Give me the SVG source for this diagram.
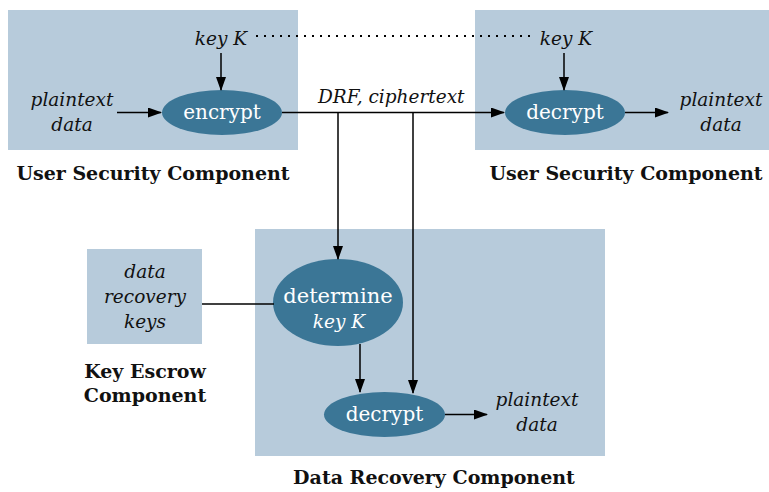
<svg xmlns="http://www.w3.org/2000/svg" width="769" height="492" viewBox="0 0 769 492">
<defs>
<marker id="ah" markerWidth="14" markerHeight="10" refX="13" refY="5" orient="auto" markerUnits="userSpaceOnUse">
<path d="M0,0 L14,5 L0,10 z" fill="#000"/>
</marker>
<style>
.box{fill:#b7cbdb}
.ell{fill:#3b7696}
text{font-family:"DejaVu Serif","Liberation Serif",serif}
.it{font-style:italic;font-size:18.5px;fill:#111}
.wt{font-size:20px;fill:#fff}
.wti{font-style:italic;font-size:18.5px;fill:#fff}
.bd{font-weight:bold;font-size:19px;fill:#111}
.ln{stroke:#000;stroke-width:1.5;fill:none}
</style>
</defs>
<rect width="769" height="492" fill="#fff"/>
<g id="usc-left">
<rect class="box" x="8" y="10" width="290" height="140"/>
<text class="it" x="221" y="45" text-anchor="middle">key K</text>
<text class="it" x="72" y="106" text-anchor="middle">plaintext</text>
<text class="it" x="72" y="131" text-anchor="middle">data</text>
<text class="bd" x="153" y="180" text-anchor="middle">User Security Component</text>
</g>
<g id="encrypt">
<ellipse class="ell" cx="222" cy="112.5" rx="60" ry="22.5"/>
<text class="wt" x="222" y="119" text-anchor="middle">encrypt</text>
</g>
<g id="usc-right">
<rect class="box" x="475" y="10" width="294" height="140"/>
<text class="it" x="566" y="45" text-anchor="middle">key K</text>
<text class="it" x="721" y="106" text-anchor="middle">plaintext</text>
<text class="it" x="721" y="131" text-anchor="middle">data</text>
<text class="bd" x="626" y="180" text-anchor="middle">User Security Component</text>
</g>
<g id="decrypt-top">
<ellipse class="ell" cx="565" cy="112.5" rx="60" ry="22.5"/>
<text class="wt" x="565" y="119" text-anchor="middle">decrypt</text>
</g>
<g id="key-escrow">
<rect class="box" x="87" y="249" width="115" height="95"/>
<text class="it" x="145" y="278" text-anchor="middle">data</text>
<text class="it" x="145" y="303" text-anchor="middle">recovery</text>
<text class="it" x="145" y="328" text-anchor="middle">keys</text>
<text class="bd" x="145" y="378" text-anchor="middle">Key Escrow</text>
<text class="bd" x="145" y="402" text-anchor="middle">Component</text>
</g>
<g id="data-recovery">
<rect class="box" x="255" y="229" width="350" height="227"/>
<text class="it" x="537" y="406" text-anchor="middle">plaintext</text>
<text class="it" x="537" y="431" text-anchor="middle">data</text>
<text class="bd" x="434" y="484" text-anchor="middle">Data Recovery Component</text>
</g>
<g id="determine">
<ellipse class="ell" cx="338" cy="302.5" rx="65" ry="43.5"/>
<text class="wt" x="338" y="303" text-anchor="middle" style="font-size:21px">determine</text>
<text class="wti" x="339" y="328" text-anchor="middle">key K</text>
</g>
<g id="decrypt-bottom">
<ellipse class="ell" cx="384.5" cy="414.5" rx="60.5" ry="22.5"/>
<text class="wt" x="384.5" y="421" text-anchor="middle">decrypt</text>
</g>
<g id="connectors">
<line x1="256" y1="36" x2="532" y2="36" stroke="#000" stroke-width="2" stroke-dasharray="2,6"/>
<line class="ln" x1="221" y1="53" x2="221" y2="90" marker-end="url(#ah)"/>
<line class="ln" x1="564" y1="53" x2="564" y2="90" marker-end="url(#ah)"/>
<line class="ln" x1="117" y1="112.5" x2="161" y2="112.5" marker-end="url(#ah)"/>
<line class="ln" x1="282" y1="112.5" x2="504" y2="112.5" marker-end="url(#ah)"/>
<text class="it" x="318" y="103">DRF, ciphertext</text>
<line class="ln" x1="625" y1="112.5" x2="668" y2="112.5" marker-end="url(#ah)"/>
<line class="ln" x1="338" y1="112.5" x2="338" y2="259" marker-end="url(#ah)"/>
<line class="ln" x1="413" y1="112.5" x2="413" y2="393" marker-end="url(#ah)"/>
<line class="ln" x1="360" y1="344" x2="360" y2="392" marker-end="url(#ah)"/>
<line class="ln" x1="202" y1="304" x2="274" y2="304"/>
<line class="ln" x1="445" y1="414.5" x2="487" y2="414.5" marker-end="url(#ah)"/>
</g>
</svg>
